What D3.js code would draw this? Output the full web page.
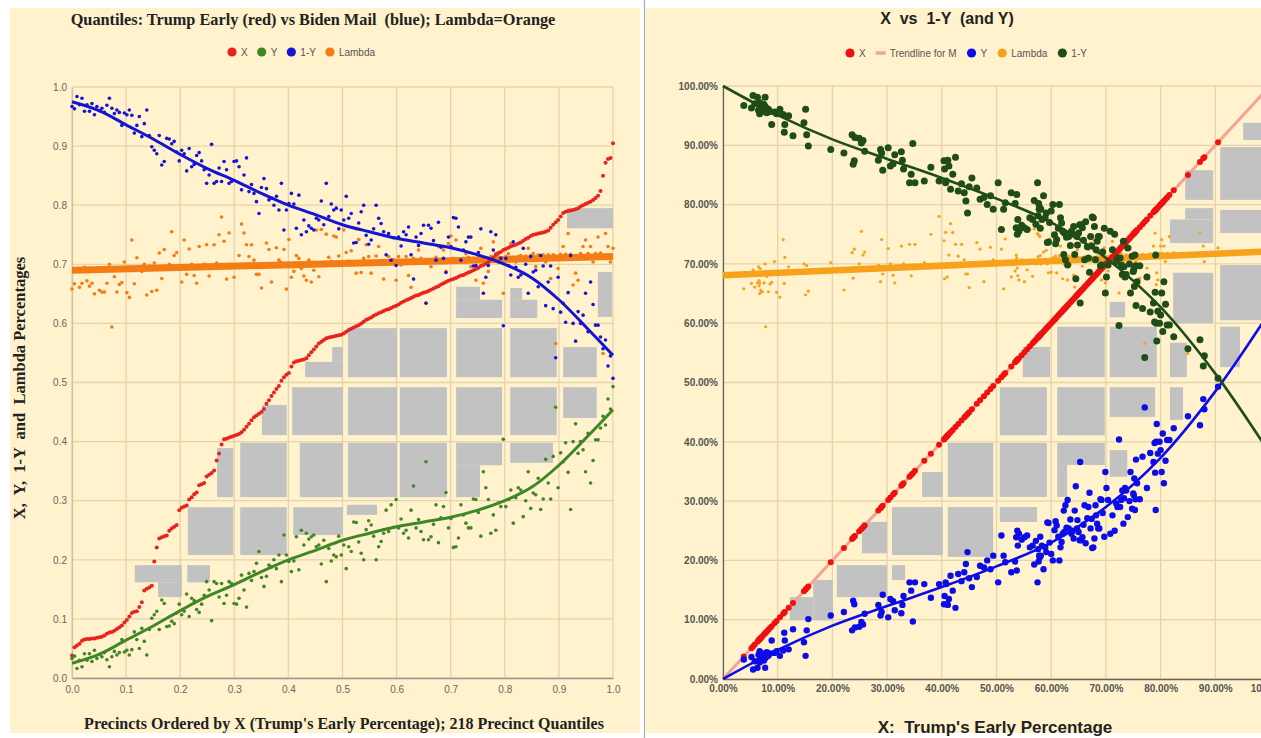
<!DOCTYPE html>
<html><head><meta charset="utf-8">
<script src="https://cdn.jsdelivr.net/npm/d3@7"></script>
<style>body{margin:0;background:#fff;} svg{display:block;}</style>
</head><body><svg id="c" width="1261" height="738"></svg>
<script>
// ---------- DATA ----------
const quantileX = [0.038,0.052,0.055,0.058,0.063,0.065,0.066,0.066,0.067,0.067,
 0.068,0.069,0.070,0.072,0.075,0.077,0.078,0.080,0.083,0.086,
 0.089,0.094,0.098,0.104,0.110,0.112,0.113,0.120,0.128,0.148,
 0.151,0.153,0.156,0.197,0.221,0.236,0.238,0.240,0.241,0.249,
 0.253,0.256,0.259,0.284,0.288,0.290,0.292,0.302,0.306,0.311,
 0.314,0.326,0.328,0.330,0.341,0.344,0.347,0.351,0.368,0.380,
 0.395,0.404,0.405,0.407,0.408,0.410,0.411,0.413,0.416,0.420,
 0.425,0.430,0.436,0.441,0.444,0.447,0.450,0.455,0.464,0.470,
 0.477,0.483,0.489,0.494,0.503,0.509,0.513,0.516,0.527,0.534,
 0.536,0.537,0.538,0.539,0.541,0.546,0.551,0.556,0.561,0.566,
 0.569,0.572,0.575,0.576,0.577,0.578,0.579,0.580,0.581,0.583,
 0.586,0.589,0.591,0.593,0.595,0.597,0.600,0.603,0.606,0.608,
 0.610,0.613,0.615,0.617,0.619,0.621,0.623,0.624,0.626,0.628,
 0.630,0.632,0.635,0.637,0.639,0.641,0.643,0.645,0.647,0.648,
 0.650,0.652,0.653,0.655,0.657,0.659,0.661,0.663,0.666,0.668,
 0.670,0.672,0.674,0.675,0.677,0.679,0.681,0.682,0.684,0.686,
 0.688,0.690,0.692,0.694,0.697,0.699,0.701,0.704,0.708,0.712,
 0.716,0.719,0.721,0.724,0.726,0.728,0.730,0.732,0.733,0.735,
 0.737,0.740,0.743,0.745,0.748,0.750,0.751,0.752,0.753,0.754,
 0.755,0.757,0.762,0.767,0.771,0.775,0.781,0.787,0.789,0.790,
 0.791,0.792,0.793,0.795,0.798,0.800,0.802,0.804,0.806,0.809,
 0.812,0.816,0.824,0.850,0.872,0.878,0.880,0.905];

const quantileY = [.033,.037,.016,.030,.019,.041,.030,.041,.028,.047,
 .033,.040,.036,.043,.031,.019,.036,.045,.039,.043,
 .065,.044,.047,.039,.048,.078,.065,.050,.084,.062,
 .039,.082,.101,.107,.113,.082,.132,.126,.087,.088,
 .096,.092,.110,.125,.107,.113,.142,.104,.135,.131,
 .116,.111,.125,.140,.163,.149,.097,.163,.160,.137,
 .160,.126,.140,.163,.160,.126,.125,.135,.174,.149,
 .120,.177,.165,.180,.194,.214,.170,.155,.172,.191,
 .188,.200,.185,.208,.163,.242,.208,.197,.180,.198,
 .239,.183,.250,.225,.245,.235,.239,.242,.222,.225,
 .193,.233,.163,.219,.198,.208,.205,.240,.208,.225,
 .185,.222,.214,.264,.263,.230,.211,.200,.251,.266,
 .259,.240,.200,.222,.231,.245,.284,.248,.293,.255,
 .302,.254,.269,.245,.250,.237,.284,.325,.254,.268,
 .248,.234,.366,.234,.239,.260,.293,.229,.271,.290,
 .314,.254,.270,.221,.222,.237,.293,.276,.262,.254,
 .254,.303,.302,.280,.240,.349,.322,.302,.245,.276,
 .250,.296,.290,.404,.290,.302,.318,.262,.305,.322,
 .318,.273,.300,.349,.287,.313,.310,.338,.285,.303,
 .370,.330,.303,.375,.458,.322,.381,.366,.398,.348,
 .285,.400,.430,.380,.400,.386,.349,.414,.330,.368,
 .403,.403,.423,.443,.428,.472,.455,.493];

const lambdaVals = [.658,.667,.690,.661,.668,.695,.672,.663,.668,.650,
 .692,.656,.653,.653,.668,.700,.594,.679,.653,.666,
 .669,.704,.652,.644,.741,.667,.711,.695,.688,.700,
 .648,.697,.654,.702,.656,.719,.676,.725,.693,.700,
 .755,.715,.720,.698,.670,.741,.683,.726,.700,.681,
 .668,.730,.695,.700,.733,.680,.698,.733,.702,.750,
 .780,.739,.675,.753,.700,.678,.698,.715,.768,.753,
 .733,.713,.733,.707,.683,.683,.660,.700,.736,.725,
 .670,.698,.728,.707,.703,.725,.658,.742,.678,.688,
 .715,.710,.693,.680,.673,.707,.670,.690,.758,.679,
 .759,.700,.751,.712,.705,.748,.746,.714,.700,.758,
 .720,.705,.723,.700,.685,.742,.686,.710,.733,.713,
 .685,.702,.714,.730,.705,.675,.700,.713,.706,.708,
 .673,.713,.699,.704,.713,.681,.661,.710,.706,.724,
 .710,.706,.635,.708,.696,.707,.712,.730,.706,.724,
 .688,.735,.748,.710,.741,.709,.707,.710,.718,.712,
 .696,.710,.673,.712,.727,.668,.707,.688,.713,.738,
 .718,.713,.710,.651,.713,.718,.735,.712,.704,.713,
 .715,.685,.714,.727,.715,.718,.696,.716,.713,.716,
 .704,.716,.676,.716,.566,.693,.717,.730,.717,.752,
 .717,.665,.685,.673,.718,.730,.741,.718,.730,.704,
 .718,.746,.719,.549,.752,.730,.704,.727];

const leftTicks  = [0,0.1,0.2,0.3,0.4,0.5,0.6,0.7,0.8,0.9,1.0];
const rightTicks = [0,0.1,0.2,0.3,0.4,0.5,0.6,0.7,0.8,0.9,1.0];

// trend of Y against quantile (1-Y trend is its complement)
const leftTrendQ = [0,0.05,0.1,0.15,0.2,0.25,0.3,0.35,0.4,0.45,0.5,0.55,0.6,0.65,0.7,0.75,0.8,0.85,0.9,0.95,1.0];
const leftTrendY = [0.025,0.040,0.064,0.088,0.114,0.138,0.158,0.180,0.200,0.216,0.233,0.245,0.256,0.264,0.272,0.284,0.300,0.323,0.360,0.406,0.454];
const leftLambdaTrend = [0.690, 0.713];   // at q = 0 and q = 1

// trend of Y against X (1-Y trend is its complement)
const rightTrendX = [0,0.1,0.2,0.3,0.4,0.5,0.6,0.7,0.8,0.9,1.0];
const rightTrendY = [0,0.049,0.090,0.123,0.155,0.190,0.230,0.290,0.373,0.485,0.620];
const rightLambdaTrend = [0.681, 0.721];  // at X = 0 and X = 1

// background grey blocks (in data units) [x0,x1,y0,y1]
const leftBlocks = [[.915,1.0,.761,.795],[.710,.795,.609,.640],[.710,.754,.640,.662],[.810,.860,.609,.640],
 [.810,.832,.640,.660],[.972,.998,.611,.687],[.431,.501,.509,.535],[.481,.501,.535,.560],[.510,.601,.509,.592],
 [.606,.693,.509,.592],[.710,.795,.509,.592],[.810,.896,.509,.592],[.908,.970,.509,.560],[.351,.397,.411,.462],
 [.407,.501,.411,.492],[.510,.601,.411,.492],[.606,.693,.411,.492],[.710,.795,.411,.492],[.810,.896,.411,.492],
 [.908,.970,.440,.492],[.268,.298,.306,.389],[.311,.397,.306,.398],[.421,.501,.306,.398],[.510,.601,.306,.398],
 [.606,.693,.306,.398],[.710,.795,.360,.398],[.710,.754,.306,.360],[.810,.889,.364,.398],[.214,.298,.208,.289],
 [.311,.397,.208,.289],[.409,.501,.242,.289],[.508,.564,.276,.293],[.116,.203,.162,.191],[.159,.203,.137,.162],
 [.213,.255,.162,.191]];
const rightBlocks = [[.951,1.0,.909,.938],[.909,1.0,.808,.897],[.845,.896,.808,.858],[.909,1.0,.752,.791],
 [.817,.896,.735,.775],[.845,.896,.775,.794],[.823,.896,.600,.685],[.909,1.0,.605,.698],[.707,.735,.610,.636],
 [.611,.698,.509,.594],[.707,.793,.509,.594],[.817,.848,.509,.567],[.909,.945,.526,.594],[.548,.598,.509,.560],
 [.506,.592,.411,.492],[.611,.698,.411,.492],[.707,.790,.442,.492],[.817,.841,.437,.492],[.411,.494,.307,.398],
 [.506,.592,.307,.398],[.611,.698,.361,.398],[.611,.629,.307,.361],[.707,.739,.341,.386],[.364,.402,.307,.349],
 [.309,.402,.209,.290],[.411,.494,.206,.290],[.254,.300,.212,.265],[.506,.574,.265,.290],[.208,.300,.138,.192],
 [.309,.333,.167,.192],[.165,.201,.099,.167],[.122,.165,.099,.138]];

// ---------- DRAW ----------
const cream = "#FFF2CC", gridC = "#E4D4AA", blockC = "#C2C2C2";
const svg = d3.select("#c");
svg.append("rect").attr("width",1261).attr("height",738).attr("fill","#fff");
svg.append("rect").attr("x",10).attr("y",8).attr("width",630).attr("height",725).attr("fill",cream);
svg.append("rect").attr("x",646).attr("y",8).attr("width",615).attr("height",725).attr("fill",cream);
svg.append("line").attr("x1",644.5).attr("x2",644.5).attr("y1",0).attr("y2",738).attr("stroke","#aaa").attr("stroke-width",1.2);

const serif = "'Liberation Serif','Times New Roman',serif";
const sans = "'Liberation Sans',Arial,sans-serif";
const n = quantileX.length;
const qOf = i => i/(n-1);

function drawGrid(g, xs, ys, ticks){
  g.selectAll(".vg").data(ticks).join("line").attr("x1",d=>xs(d)).attr("x2",d=>xs(d))
   .attr("y1",ys(0)).attr("y2",ys(1)).attr("stroke",gridC).attr("stroke-width",1.3);
  g.selectAll(".hg").data(ticks).join("line").attr("class","hg").attr("y1",d=>ys(d)).attr("y2",d=>ys(d))
   .attr("x1",xs(0)).attr("x2",xs(1)).attr("stroke",gridC).attr("stroke-width",1.3);
}
function drawBlocks(g, xs, ys, blocks){
  g.selectAll("rect").data(blocks).join("rect")
   .attr("x",d=>xs(d[0])).attr("width",d=>xs(d[1])-xs(d[0]))
   .attr("y",d=>ys(d[3])).attr("height",d=>ys(d[2])-ys(d[3])).attr("fill",blockC);
}
function legend(g, items, startX, y, gap){
  let cx = startX;
  items.forEach(it=>{
    if(it.type==="line"){
      g.append("line").attr("x1",cx-5).attr("x2",cx+5).attr("y1",y).attr("y2",y)
       .attr("stroke",it.color).attr("stroke-width",3.5);
    } else {
      g.append("circle").attr("cx",cx).attr("cy",y).attr("r",4.6).attr("fill",it.color);
    }
    const t = g.append("text").attr("x",cx+9).attr("y",y+3.6).text(it.label)
      .attr("font-family",sans).attr("font-size",10).attr("fill","#555");
    cx = cx + 9 + t.node().getComputedTextLength() + gap;
  });
}

// ===== LEFT PANEL =====
const lx = d3.scaleLinear().domain([0,1]).range([72,613]);
const ly = d3.scaleLinear().domain([0,1]).range([678,87]);
const L = svg.append("g");
drawGrid(L.append("g"), lx, ly, leftTicks);
drawBlocks(L.append("g"), lx, ly, leftBlocks);

const lxAxis = L.append("g").attr("transform",`translate(0,${ly(0)})`)
  .call(d3.axisBottom(lx).tickValues(leftTicks).tickFormat(d3.format(".1f")).tickSize(0).tickPadding(8));
const lyAxis = L.append("g").attr("transform",`translate(${lx(0)},0)`)
  .call(d3.axisLeft(ly).tickValues(leftTicks).tickFormat(d3.format(".1f")).tickSize(0).tickPadding(5));
[lxAxis,lyAxis].forEach(a=>{a.selectAll("text").attr("font-family",sans).attr("font-size",10).attr("fill","#666");});
lxAxis.select(".domain").attr("stroke","#999").attr("stroke-width",1.4);
lyAxis.select(".domain").attr("stroke","#D2C39C").attr("stroke-width",1.3);

const lc = {red:"#E8231E", green:"#3F8624", blue:"#1414D2", orange:"#F57C14"};
const lIdx = d3.range(n);
L.append("g").selectAll("circle").data(lIdx).join("circle")
  .attr("cx",i=>lx(qOf(i))).attr("cy",i=>ly(lambdaVals[i])).attr("r",1.8).attr("fill",lc.orange);
L.append("line").attr("x1",lx(0)).attr("x2",lx(1)).attr("y1",ly(leftLambdaTrend[0])).attr("y2",ly(leftLambdaTrend[1]))
  .attr("stroke",lc.orange).attr("stroke-width",7);
L.append("g").selectAll("circle").data(lIdx).join("circle")
  .attr("cx",i=>lx(qOf(i))).attr("cy",i=>ly(quantileX[i])).attr("r",2).attr("fill",lc.red);
L.append("g").selectAll("circle").data(lIdx).join("circle")
  .attr("cx",i=>lx(qOf(i))).attr("cy",i=>ly(quantileY[i])).attr("r",1.8).attr("fill",lc.green);
L.append("g").selectAll("circle").data(lIdx).join("circle")
  .attr("cx",i=>lx(qOf(i))).attr("cy",i=>ly(1-quantileY[i])).attr("r",1.8).attr("fill",lc.blue);
const lTrendLine = d3.line().curve(d3.curveCatmullRom);
L.append("path").attr("d",lTrendLine(leftTrendQ.map((qq,k)=>[lx(qq),ly(leftTrendY[k])])))
  .attr("fill","none").attr("stroke",lc.green).attr("stroke-width",3);
L.append("path").attr("d",lTrendLine(leftTrendQ.map((qq,k)=>[lx(qq),ly(1-leftTrendY[k])])))
  .attr("fill","none").attr("stroke",lc.blue).attr("stroke-width",3);

L.append("text").attr("x",313).attr("y",25).attr("text-anchor","middle")
  .attr("font-family",serif).attr("font-weight","bold").attr("font-size",16.3).attr("fill","#222")
  .text("Quantiles: Trump Early (red) vs Biden Mail  (blue); Lambda=Orange").style("white-space","pre");
L.append("text").attr("transform","translate(25,388) rotate(-90)").attr("text-anchor","middle")
  .attr("font-family",serif).attr("font-weight","bold").attr("font-size",16.5).attr("fill","#222")
  .text("X,  Y,  1-Y  and  Lambda Percentages").style("white-space","pre");
L.append("text").attr("x",344).attr("y",729).attr("text-anchor","middle")
  .attr("font-family",serif).attr("font-weight","bold").attr("font-size",16).attr("fill","#222")
  .text("Precincts Ordered by X (Trump's Early Percentage); 218 Precinct Quantiles");
legend(L.append("g"), [{label:"X",color:lc.red},{label:"Y",color:lc.green},{label:"1-Y",color:lc.blue},{label:"Lambda",color:lc.orange}], 232, 52, 14);

// ===== RIGHT PANEL =====
const rx = d3.scaleLinear().domain([0,1]).range([723,1270]);
const ry = d3.scaleLinear().domain([0,1]).range([679,86]);
const R = svg.append("g");
drawGrid(R.append("g"), rx, ry, rightTicks);
drawBlocks(R.append("g"), rx, ry, rightBlocks);
const rxAxis = R.append("g").attr("transform",`translate(0,${ry(0)})`)
  .call(d3.axisBottom(rx).tickValues(rightTicks).tickFormat(d3.format(".2%")).tickSize(0).tickPadding(6));
const ryAxis = R.append("g").attr("transform",`translate(${rx(0)},0)`)
  .call(d3.axisLeft(ry).tickValues(rightTicks).tickFormat(d3.format(".2%")).tickSize(0).tickPadding(5));
[rxAxis,ryAxis].forEach(a=>{a.selectAll("text").attr("font-family",sans).attr("font-size",10)
  .attr("font-weight","bold").attr("fill","#555"); a.select(".domain").attr("stroke","#666").attr("stroke-width",1.3);});

const rc = {red:"#F01010", pink:"#F4A29A", blue:"#0C0CE8", orange:"#F8A21C", green:"#1F4D17"};
R.append("g").selectAll("circle").data(lIdx).join("circle")
  .attr("cx",i=>rx(quantileX[i])).attr("cy",i=>ry(lambdaVals[i])).attr("r",1.6).attr("fill",rc.orange);
R.append("line").attr("x1",rx(0)).attr("x2",rx(1)).attr("y1",ry(rightLambdaTrend[0])).attr("y2",ry(rightLambdaTrend[1]))
  .attr("stroke",rc.orange).attr("stroke-width",6.5);
R.append("line").attr("x1",rx(0)).attr("x2",rx(1)).attr("y1",ry(0)).attr("y2",ry(1))
  .attr("stroke",rc.pink).attr("stroke-width",3);
R.append("g").selectAll("circle").data(lIdx).join("circle")
  .attr("cx",i=>rx(quantileX[i])).attr("cy",i=>ry(quantileX[i])).attr("r",3).attr("fill",rc.red);
R.append("g").selectAll("circle").data(lIdx).join("circle")
  .attr("cx",i=>rx(quantileX[i])).attr("cy",i=>ry(quantileY[i])).attr("r",3.2).attr("fill",rc.blue);
const rTrend = d3.line().curve(d3.curveCatmullRom);
R.append("path").attr("d",rTrend(rightTrendX.map((xx,k)=>[rx(xx),ry(rightTrendY[k])])))
  .attr("fill","none").attr("stroke",rc.blue).attr("stroke-width",2.6);
R.append("g").selectAll("circle").data(lIdx).join("circle")
  .attr("cx",i=>rx(quantileX[i])).attr("cy",i=>ry(1-quantileY[i])).attr("r",3.5).attr("fill",rc.green);
R.append("path").attr("d",rTrend(rightTrendX.map((xx,k)=>[rx(xx),ry(1-rightTrendY[k])])))
  .attr("fill","none").attr("stroke",rc.green).attr("stroke-width",2.6);

R.append("text").attr("x",947).attr("y",24).attr("text-anchor","middle")
  .attr("font-family",sans).attr("font-weight","bold").attr("font-size",16).attr("fill","#222")
  .text("X  vs  1-Y  (and Y)").style("white-space","pre");
R.append("text").attr("x",995).attr("y",733).attr("text-anchor","middle")
  .attr("font-family",sans).attr("font-weight","bold").attr("font-size",17).attr("fill","#222")
  .text("X:  Trump's Early Percentage").style("white-space","pre");
legend(R.append("g"), [{label:"X",color:rc.red},{label:"Trendline for M",color:rc.pink,type:"line"},
  {label:"Y",color:rc.blue},{label:"Lambda",color:rc.orange},{label:"1-Y",color:rc.green}], 850, 53, 15);
</script></body></html>
